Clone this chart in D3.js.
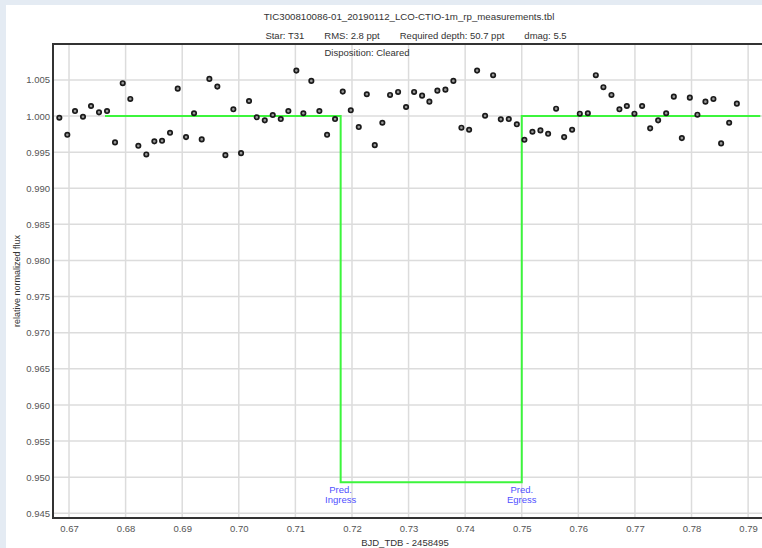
<!DOCTYPE html>
<html>
<head>
<meta charset="utf-8">
<script src="https://cdn.jsdelivr.net/npm/d3@7"></script>
<style>
  html, body { margin: 0; padding: 0; background: #e4ebf3; }
  svg { display: block; font-family: "Liberation Sans", Arial, sans-serif; }
</style>
</head>
<body>
<svg id="chart" width="762" height="548"></svg>
<script>
// light curve (BJD_TDB - 2458495, relative flux)
const bjd = [
  0.66829, 0.66970, 0.67106, 0.67247, 0.67389, 0.67530, 0.67672, 0.67813, 0.67949, 0.68083,
  0.68225, 0.68366, 0.68508, 0.68644, 0.68785, 0.68921, 0.69068, 0.69209, 0.69345, 0.69480,
  0.69621, 0.69763, 0.69904, 0.70040, 0.70181, 0.70317, 0.70459, 0.70600, 0.70742, 0.70876,
  0.71017, 0.71141, 0.71282, 0.71424, 0.71560, 0.71701, 0.71837, 0.71979, 0.72120, 0.72262,
  0.72403, 0.72537, 0.72673, 0.72815, 0.72956, 0.73098, 0.73239, 0.73368, 0.73509, 0.73651,
  0.73792, 0.73934, 0.74070, 0.74211, 0.74352, 0.74494, 0.74630, 0.74771, 0.74913, 0.75047,
  0.75189, 0.75330, 0.75466, 0.75607, 0.75749, 0.75890, 0.76026, 0.76168, 0.76309, 0.76443,
  0.76585, 0.76726, 0.76857, 0.76991, 0.77127, 0.77269, 0.77410, 0.77552, 0.77687, 0.77829,
  0.77970, 0.78104, 0.78246, 0.78387, 0.78523, 0.78665, 0.78801
];
const flux = [
  0.99976, 0.99740, 1.00069, 0.99990, 1.00139, 1.00051, 1.00069, 0.99635, 1.00454, 1.00236,
  0.99588, 0.99468, 0.99649, 0.99657, 0.99768, 1.00379, 0.99708, 1.00038, 0.99676, 1.00514,
  1.00407, 0.99458, 1.00093, 0.99486, 1.00208, 0.99982, 0.99940, 1.00014, 0.99958, 1.00069,
  1.00629, 1.00038, 1.00486, 1.00069, 0.99740, 0.99958, 1.00338, 1.00079, 0.99847, 1.00301,
  0.99597, 0.99907, 1.00292, 1.00333, 1.00125, 1.00333, 1.00282, 1.00199, 1.00351, 1.00365,
  1.00486, 0.99838, 0.99810, 1.00629, 1.00004, 1.00565, 0.99954, 0.99958, 0.99885, 0.99671,
  0.99782, 0.99801, 0.99754, 1.00101, 0.99708, 0.99810, 1.00032, 1.00038, 1.00565, 1.00399,
  1.00292, 1.00093, 1.00139, 1.00032, 1.00139, 0.99829, 0.99940, 1.00038, 1.00268, 0.99694,
  1.00254, 1.00018, 1.00199, 1.00236, 0.99621, 0.99907, 1.00171
];

// predicted transit model (box)
const modelT = [0.67636, 0.71800, 0.71800, 0.75000, 0.75000, 0.79215];
const modelF = [1.0000, 1.0000, 0.9493, 0.9493, 1.0000, 1.0000];

const xTicks = [0.67, 0.68, 0.69, 0.70, 0.71, 0.72, 0.73, 0.74, 0.75, 0.76, 0.77, 0.78, 0.79];
const yTicks = [0.945, 0.950, 0.955, 0.960, 0.965, 0.970, 0.975, 0.980, 0.985, 0.990, 0.995, 1.000, 1.005];

const title = "TIC300810086-01_20190112_LCO-CTIO-1m_rp_measurements.tbl";
const subtitle = ["Star: T31", "RMS: 2.8 ppt", "Required depth: 50.7 ppt", "dmag: 5.5"];
const disposition = "Disposition: Cleared";
const markers = [{t: 0.718, lines: ["Pred.", "Ingress"]}, {t: 0.750, lines: ["Pred.", "Egress"]}];

const svg = d3.select("#chart");
const m = {left: 53, top: 44, right: 766, bottom: 518};

const x = d3.scaleLinear().domain([0.66717, 0.79316]).range([m.left, m.right]);
const y = d3.scaleLinear().domain([0.94435, 1.00997]).range([m.bottom, m.top]);

// white panel
svg.append("rect").attr("x", 6).attr("y", 5).attr("width", 756).attr("height", 543).attr("fill", "#fff");

svg.append("defs").append("clipPath").attr("id", "plotclip")
  .append("rect").attr("x", m.left).attr("y", m.top)
  .attr("width", m.right - m.left).attr("height", m.bottom - m.top);

// grid
const grid = svg.append("g").attr("stroke", "#dcdcdc").attr("stroke-width", 1.5);
grid.selectAll("line.v").data(xTicks).join("line").attr("class", "v")
  .attr("x1", d => x(d)).attr("x2", d => x(d)).attr("y1", m.top).attr("y2", m.bottom);
grid.selectAll("line.h").data(yTicks).join("line").attr("class", "h")
  .attr("y1", d => y(d)).attr("y2", d => y(d)).attr("x1", m.left).attr("x2", m.right);

// axes (labels only)
const xAxis = svg.append("g").attr("transform", `translate(0,${m.bottom})`)
  .call(d3.axisBottom(x).tickValues(xTicks).tickSize(0).tickPadding(7).tickFormat(d3.format(".2f")));
const yAxis = svg.append("g").attr("transform", `translate(${m.left},0)`)
  .call(d3.axisLeft(y).tickValues(yTicks).tickSize(0).tickPadding(3).tickFormat(d3.format(".3f")));
[xAxis, yAxis].forEach(a => {
  a.select(".domain").remove();
  a.selectAll("text").attr("fill", "#555").style("font-size", "9.5px")
    .style("font-family", "Liberation Sans, Arial, sans-serif");
});

// frame
svg.append("path")
  .attr("d", `M${m.right},${m.top}H${m.left}V${m.bottom}H${m.right}`)
  .attr("fill", "none").attr("stroke", "#333").attr("stroke-width", 2);

const plot = svg.append("g").attr("clip-path", "url(#plotclip)");

// model
plot.append("path")
  .datum(d3.zip(modelT, modelF))
  .attr("d", d3.line().x(d => x(d[0])).y(d => y(d[1])))
  .attr("fill", "none").attr("stroke", "#3cf53c").attr("stroke-width", 2);

// data points
plot.selectAll("circle").data(d3.zip(bjd, flux)).join("circle")
  .attr("cx", d => x(d[0])).attr("cy", d => y(d[1])).attr("r", 2.2)
  .attr("fill", "#999").attr("stroke", "#1a1a1a").attr("stroke-width", 1.7);

// ingress / egress labels
markers.forEach(mk => {
  const t = svg.append("text").attr("x", x(mk.t)).attr("y", y(modelF[2]) + 11)
    .attr("text-anchor", "middle").attr("fill", "#5050ff").style("font-size", "9.5px");
  mk.lines.forEach((s, i) => t.append("tspan").attr("x", x(mk.t)).attr("dy", i ? 9.5 : 0).text(s));
});

// titles
svg.append("text").attr("x", 409).attr("y", 20).attr("text-anchor", "middle")
  .attr("fill", "#333").style("font-size", "9.7px").text(title);
const sub = svg.append("text").attr("x", 416).attr("y", 39).attr("text-anchor", "middle")
  .attr("fill", "#333").style("font-size", "9.5px");
subtitle.forEach((s, i) => sub.append("tspan").attr("dx", i ? 20 : 0).text(s));
svg.append("text").attr("x", 367).attr("y", 56).attr("text-anchor", "middle")
  .attr("fill", "#333").style("font-size", "9.5px").text(disposition);

svg.append("text").attr("transform", `translate(20,${(m.top + m.bottom) / 2}) rotate(-90)`)
  .attr("text-anchor", "middle").attr("fill", "#333").style("font-size", "9px")
  .text("relative normalized flux");
svg.append("text").attr("x", 405).attr("y", 546).attr("text-anchor", "middle")
  .attr("fill", "#333").style("font-size", "9.5px").text("BJD_TDB - 2458495");
</script>
</body>
</html>
